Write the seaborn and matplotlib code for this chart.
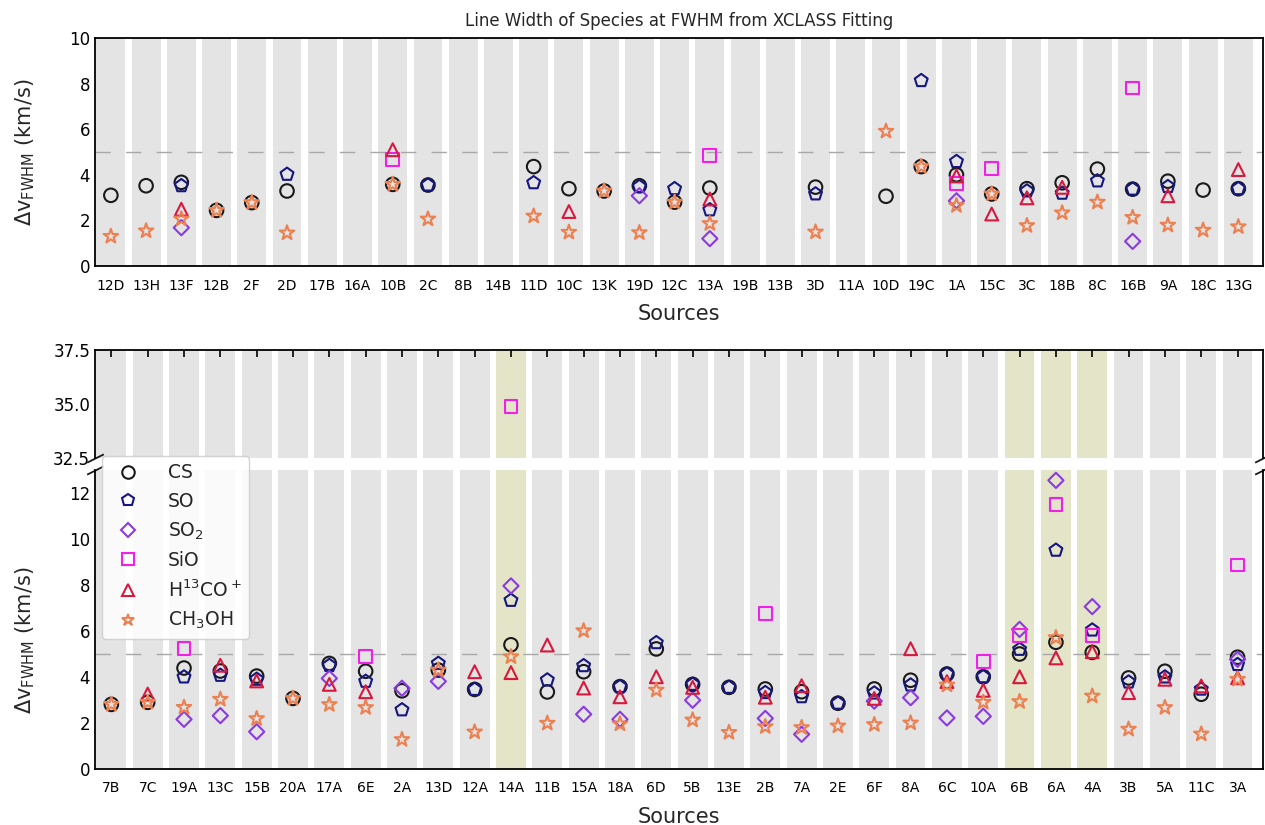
import numpy as np
import matplotlib
matplotlib.use("Agg")
import matplotlib.pyplot as plt
import seaborn as sns
from matplotlib.lines import Line2D

nan = np.nan

# ---------------- data ----------------
top_sources = ["12D", "13H", "13F", "12B", "2F", "2D", "17B", "16A", "10B", "2C", "8B",
               "14B", "11D", "10C", "13K", "19D", "12C", "13A", "19B", "13B", "3D", "11A",
               "10D", "19C", "1A", "15C", "3C", "18B", "8C", "16B", "9A", "18C", "13G"]
top_cs = [3.10, 3.52, 3.67, 2.44, 2.78, 3.29, nan, nan, 3.58, 3.55, nan,
          nan, 4.36, 3.39, 3.29, 3.52, 2.80, 3.42, nan, nan, 3.46, nan,
          3.06, 4.36, 4.00, 3.16, 3.39, 3.65, 4.25, 3.37, 3.72, 3.33, 3.39]
top_so = [nan, nan, 3.52, nan, nan, 4.02, nan, nan, nan, 3.55, nan,
          nan, 3.65, nan, nan, 3.48, 3.39, 2.46, nan, nan, 3.16, nan,
          nan, 8.13, 4.58, nan, 3.29, 3.19, 3.73, 3.37, 3.48, nan, 3.39]
top_so2 = [nan, nan, 1.68, nan, nan, nan, nan, nan, nan, nan, nan,
           nan, nan, nan, nan, 3.08, nan, 1.20, nan, nan, nan, nan,
           nan, nan, 2.86, nan, nan, nan, nan, 1.08, nan, nan, nan]
top_sio = [nan, nan, nan, nan, nan, nan, nan, nan, 4.68, nan, nan,
           nan, nan, nan, nan, nan, nan, 4.85, nan, nan, nan, nan,
           nan, nan, 3.61, 4.28, nan, nan, nan, 7.81, nan, nan, nan]
top_h13 = [nan, nan, 2.49, nan, nan, nan, nan, nan, 5.10, nan, nan,
           nan, nan, 2.39, nan, nan, nan, 2.94, nan, nan, nan, nan,
           nan, nan, 3.95, 2.28, 2.99, 3.45, nan, nan, 3.08, nan, 4.23]
top_ch3oh = [1.30, 1.54, 2.06, 2.44, 2.78, 1.45, nan, nan, 3.58, 2.06, nan,
             nan, 2.19, 1.48, 3.29, 1.46, 2.80, 1.86, nan, nan, 1.49, nan,
             5.91, 4.36, 2.65, 3.16, 1.77, 2.33, 2.80, 2.13, 1.79, 1.57, 1.72]

bot_sources = ["7B", "7C", "19A", "13C", "15B", "20A", "17A", "6E", "2A", "13D", "12A",
               "14A", "11B", "15A", "18A", "6D", "5B", "13E", "2B", "7A", "2E", "6F",
               "8A", "6C", "10A", "6B", "6A", "4A", "3B", "5A", "11C", "3A"]
bot_cs = [2.81, 2.90, 4.39, 4.26, 4.04, 3.07, 4.59, 4.25, 3.40, 4.30, 3.46,
          5.40, 3.35, 4.23, 3.58, 5.22, 3.68, 3.55, 3.48, 3.36, 2.86, 3.48,
          3.86, 4.13, 4.01, 5.00, 5.51, 5.07, 3.96, 4.25, 3.25, 4.86]
bot_so = [nan, nan, 4.00, 4.07, 3.90, nan, 4.50, 3.81, 2.57, 4.59, 3.46,
          7.33, 3.87, 4.49, 3.58, 5.49, 3.68, 3.55, 3.32, 3.14, 2.86, 3.30,
          3.65, 4.13, 4.01, 5.20, 9.51, 6.04, 3.78, 4.00, 3.47, 4.54]
bot_so2 = [nan, nan, 2.16, 2.32, 1.62, nan, 3.94, nan, 3.51, 3.81, nan,
           7.96, nan, 2.38, 2.16, nan, 2.99, nan, 2.20, 1.51, nan, 2.95,
           3.10, 2.22, 2.29, 6.07, 12.55, 7.06, nan, nan, nan, 4.77]
bot_sio = [nan, nan, 5.23, nan, nan, nan, nan, 4.88, nan, nan, nan,
           34.9, nan, nan, nan, nan, nan, nan, 6.75, nan, nan, nan,
           nan, nan, 4.68, 5.81, 11.51, 5.80, nan, nan, nan, 8.87]
bot_h13 = [nan, 3.26, nan, 4.51, 3.83, nan, 3.68, 3.36, nan, nan, 4.23,
           4.19, 5.39, 3.52, 3.14, 4.01, 3.55, nan, 3.12, 3.62, nan, 3.07,
           5.23, 3.80, 3.42, 4.01, 4.83, 5.10, 3.32, 3.90, 3.61, 3.97]
bot_ch3oh = [2.81, 2.90, 2.68, 3.03, 2.19, 3.07, 2.80, 2.67, 1.28, 4.30, 1.61,
             4.88, 1.99, 6.01, 1.96, 3.43, 2.13, 1.59, 1.84, 1.80, 1.87, 1.93,
             2.00, 3.65, 2.90, 2.93, 5.71, 3.17, 1.73, 2.67, 1.52, 3.90]

highlighted = ["14A", "6B", "6A", "4A"]

species = ["CS", "SO", r"SO$_2$", "SiO", r"H$^{13}$CO$^+$", r"CH$_3$OH"]
markers = ["o", "p", "D", "s", "^", "*"]
colors = ["#1a1a1a", "#161680", "#8a3be0", "#f020e8", "#d8183e", "#ec8050"]
sizes = [95, 95, 60, 85, 85, 120]

top_series = [top_cs, top_so, top_so2, top_sio, top_h13, top_ch3oh]
bot_series = [bot_cs, bot_so, bot_so2, bot_sio, bot_h13, bot_ch3oh]

# ---------------- style ----------------
sns.set_theme(style="white")
plt.rcParams["font.family"] = ["DejaVu Sans"]
plt.rcParams["axes.edgecolor"] = "black"
plt.rcParams["axes.linewidth"] = 1.3

W, H = 1265, 825
fig = plt.figure(figsize=(W / 100, H / 100), dpi=100)


def rect(left, top, right, bottom):
    return [left / W, 1 - bottom / H, (right - left) / W, (bottom - top) / H]


ax_top = fig.add_axes(rect(95, 38, 1263, 266))
ax_up = fig.add_axes(rect(95, 350, 1263, 458))
ax_lo = fig.add_axes(rect(95, 470, 1263, 769))

BAND = "#e4e4e4"
HIGH = "#e3e4c8"
YLABEL = r"$\Delta\mathrm{v}_{\mathrm{FWHM}}$ (km/s)"


def draw_panel(ax, sources, series, hl=()):
    n = len(sources)
    x = np.arange(n)
    for i, s in enumerate(sources):
        ax.axvspan(i - 0.41, i + 0.41, color=HIGH if s in hl else BAND, lw=0, zorder=0)
    ax.axhline(5, color="#a8a8a8", lw=1.0, ls=(0, (11, 11)), zorder=1)
    for vals, m, c, sz in zip(series, markers, colors, sizes):
        sns.scatterplot(x=x, y=np.array(vals, dtype=float), marker=m, s=sz, ax=ax,
                        legend=False, zorder=3)
        pc = ax.collections[-1]
        pc.set_facecolor("none")
        pc.set_edgecolor(c)
        pc.set_linewidth(1.5)
    ax.set_xlim(-0.45, n - 0.3)
    ax.set_xticks(x)
    ax.tick_params(direction="in", length=5, width=1.2, colors="black")
    ax.grid(False)


# top panel
draw_panel(ax_top, top_sources, top_series)
ax_top.set_ylim(0, 10)
ax_top.set_yticks(np.arange(0, 11, 2))
ax_top.set_xticklabels(top_sources, fontsize=10)
ax_top.tick_params(axis="y", labelsize=12)
ax_top.tick_params(axis="x", pad=9)
ax_top.set_xlabel("Sources", fontsize=15, labelpad=8)
ax_top.set_title("Line Width of Species at FWHM from XCLASS Fitting", fontsize=12, pad=9)
fig.text(25 / W, 1 - 152 / H, YLABEL, fontsize=15, rotation=90, ha="center", va="center")

# bottom panel, broken axis
draw_panel(ax_up, bot_sources, bot_series, highlighted)
draw_panel(ax_lo, bot_sources, bot_series, highlighted)
ax_up.set_ylim(32.5, 37.5)
ax_up.set_yticks([32.5, 35.0, 37.5])
ax_up.set_yticklabels(["32.5", "35.0", "37.5"])
ax_up.tick_params(axis="y", labelsize=12)
ax_up.spines["bottom"].set_visible(False)
ax_up.xaxis.tick_top()
ax_up.tick_params(axis="x", labeltop=False, labelbottom=False, direction="in", length=5)

ax_lo.set_ylim(0, 13)
ax_lo.set_yticks(np.arange(0, 13, 2))
ax_lo.spines["top"].set_visible(False)
ax_lo.set_xticklabels(bot_sources, fontsize=10)
ax_lo.tick_params(axis="y", labelsize=12)
ax_lo.tick_params(axis="x", pad=9)
ax_lo.set_xlabel("Sources", fontsize=15, labelpad=8)
fig.text(25 / W, 1 - 640 / H, YLABEL, fontsize=15, rotation=90, ha="center", va="center")

# break marks
d = 0.5
kw = dict(marker=[(-1, -d), (1, d)], markersize=12, linestyle="none", color="k",
          mec="k", mew=1.3, clip_on=False)
ax_up.plot([0, 1], [0, 0], transform=ax_up.transAxes, **kw)
ax_lo.plot([0, 1], [1, 1], transform=ax_lo.transAxes, **kw)

# legend
handles = [Line2D([0], [0], marker=m, ls="none", mfc="none", mec=c, mew=1.5,
                  markersize=9 if m != "D" else 7, label=lab)
           for m, c, lab in zip(markers, colors, species)]
fig.legend(handles=handles, loc="upper left", bbox_to_anchor=(102 / W, 1 - 456 / H),
           bbox_transform=fig.transFigure, borderaxespad=0, fontsize=13.5,
           labelspacing=0.5, handletextpad=1.1, handlelength=2.0,
           frameon=True, framealpha=0.85, edgecolor="#cccccc", fancybox=True)

fig.savefig("out.png", dpi=100)
